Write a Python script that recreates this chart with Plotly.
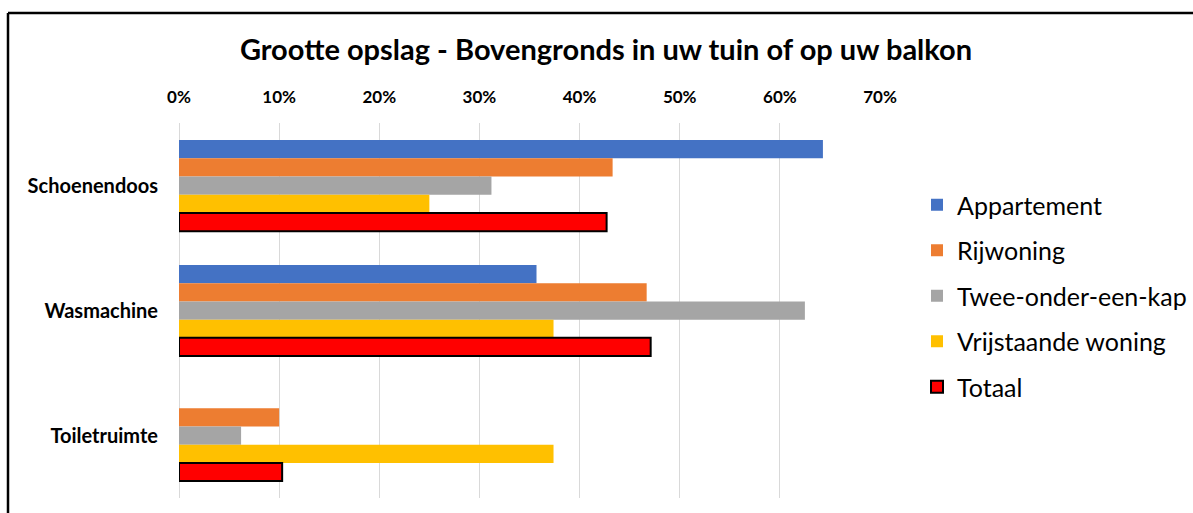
import plotly.graph_objects as go

categories = ["Schoenendoos", "Wasmachine", "Toiletruimte"]
series_names = ["Appartement", "Rijwoning", "Twee-onder-een-kap", "Vrijstaande woning", "Totaal"]
appartement = [0.643, 0.357, 0.0]
rijwoning = [0.433, 0.467, 0.100]
twee_onder_een_kap = [0.312, 0.625, 0.062]
vrijstaande = [0.250, 0.374, 0.374]
totaal = [0.427, 0.471, 0.103]
tick_vals = [0, 0.1, 0.2, 0.3, 0.4, 0.5, 0.6, 0.7]
tick_text = ["0%", "10%", "20%", "30%", "40%", "50%", "60%", "70%"]

colors = ["#4472C4", "#ED7D31", "#A5A5A5", "#FFC000", "#FF0000"]
values = [appartement, rijwoning, twee_onder_een_kap, vrijstaande, totaal]

FONT = "Lato"
fig = go.Figure()
for name, vals, col in zip(series_names, values, colors):
    is_tot = name == "Totaal"
    fig.add_trace(go.Bar(
        y=categories, x=vals, name=name, orientation="h",
        marker=dict(color=col, line=dict(color="#000000" if is_tot else col, width=2 if is_tot else 0)),
        legendgroup=name,
    ))

W, H = 1193, 513
L, R, T, B = 179, W - 880, 123, H - 498
pw, ph = W - L - R, H - T - B

def px2x(px):
    return (px - L) / pw

def py2y(py):
    return (H - B - py) / ph

fig.update_layout(
    width=W, height=H,
    margin=dict(l=L, r=R, t=T, b=B, autoexpand=False),
    paper_bgcolor="white", plot_bgcolor="white",
    barmode="group", bargap=0.27, bargroupgap=0,
    font=dict(family=FONT, color="#000000"),
    title=dict(text="<b>Grootte opslag - Bovengronds in uw tuin of op uw balkon</b>",
               x=606 / W, xref="container", xanchor="center",
               y=1 - 50 / H, yref="container", yanchor="middle",
               font=dict(size=29, family=FONT, color="#000000")),
    xaxis=dict(side="top", range=[0, 0.7], tickvals=tick_vals, ticktext=tick_text,
               showgrid=True, gridcolor="#D9D9D9", gridwidth=1,
               zeroline=True, zerolinecolor="#D9D9D9", zerolinewidth=1,
               showline=False, ticks="", ticklabelstandoff=16,
               tickfont=dict(size=17, family=FONT, color="#000000", weight="bold")),
    yaxis=dict(autorange="reversed", showgrid=False, showline=False, ticks="",
               ticklabelstandoff=20,
               tickfont=dict(size=20, family=FONT, color="#000000", weight="bold")),
    legend=dict(x=px2x(917), xanchor="left", y=py2y(296), yanchor="middle",
                traceorder="grouped", tracegroupgap=10,
                font=dict(size=25, family=FONT, color="#000000"),
                bgcolor="rgba(0,0,0,0)"),
    showlegend=True,
    shapes=[
        dict(type="line", xref="paper", yref="paper", x0=px2x(8), x1=px2x(W + 5),
             y0=py2y(13), y1=py2y(13), line=dict(color="black", width=2.5)),
        dict(type="line", xref="paper", yref="paper", x0=px2x(8), x1=px2x(8),
             y0=py2y(13), y1=py2y(H + 5), line=dict(color="black", width=2.5)),
    ],
)

fig.write_html("out.html")
